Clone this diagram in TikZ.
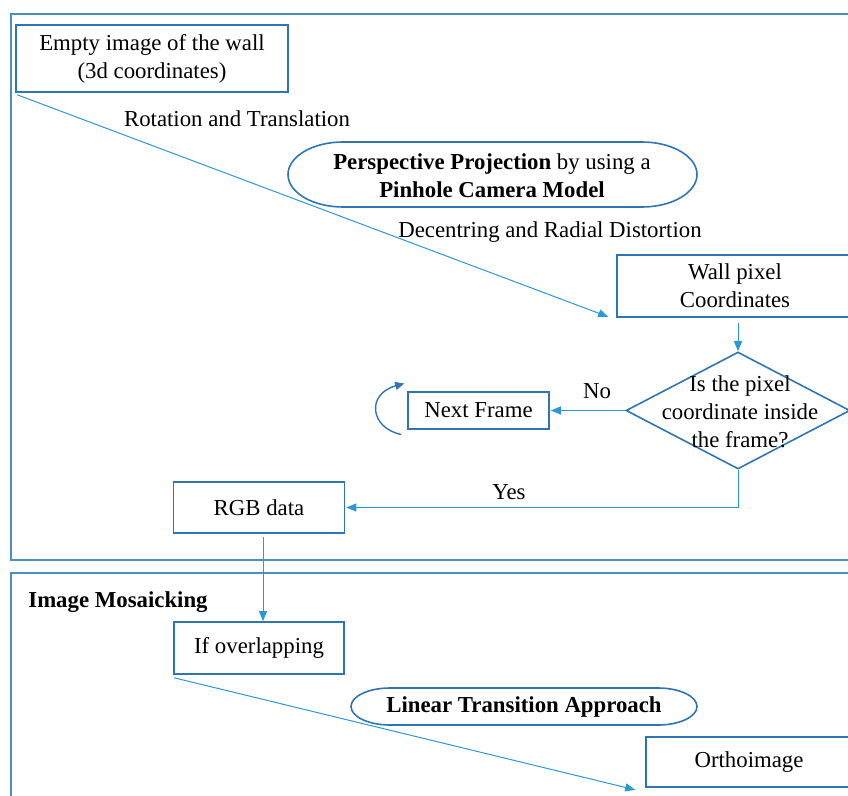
\documentclass[tikz,border=0pt]{standalone}
\usepackage{fontspec}
\setmainfont{Liberation Serif}
\usetikzlibrary{arrows.meta,shapes.geometric}
\definecolor{boxblue}{HTML}{2E75B6}
\definecolor{lineblue}{HTML}{62B2E4}
\definecolor{headblue}{HTML}{2B98D8}
\definecolor{frameblue}{HTML}{4A8FC0}
\begin{document}
\begin{tikzpicture}[x=1pt,y=1pt,
  every node/.style={font=\fontsize{22.8}{28}\selectfont, align=center, inner sep=0pt, text=black},
  box/.style={draw=boxblue, line width=1.6pt},
  frame/.style={draw=frameblue, line width=1.8pt},
  pill/.style={draw=boxblue, line width=1.6pt},
  conn/.style={draw=lineblue, line width=1pt, -{Triangle[length=10pt,width=8pt,fill=headblue]}, headblue},
  loopar/.style={draw=boxblue, line width=1.4pt, -{Triangle[length=9pt,width=8pt,fill=boxblue]}}]
\useasboundingbox (0,0) rectangle (848,-795);
\clip (0,0) rectangle (848,-795);
% frames
\draw[frame] (11,-14) rectangle (870,-560);
\draw[frame] (11,-573) rectangle (870,-820);
% nodes
\node[box, minimum width=272pt, minimum height=67pt] (empty) at (152,-58.5) {Empty image of the wall\\(3d coordinates)};
\node (rot) at (237,-119) {Rotation and Translation};
\draw[pill] (343,-142) -- (642,-142) arc[start angle=90,end angle=-90,x radius=55pt,y radius=32.5pt] -- (343,-207) arc[start angle=270,end angle=90,x radius=55pt,y radius=32.5pt] -- cycle;
\node (persp) at (492,-176) {\textbf{Perspective Projection} by using a\\\textbf{Pinhole Camera Model}};
\node (dist) at (550,-232) {Decentring and Radial Distortion};
\node[box, minimum width=236pt, minimum height=62pt] (wall) at (735,-286) {Wall pixel\\Coordinates};
\node[box, diamond, minimum width=224pt, minimum height=117pt] (dec) at (738,-410.5) {};
\node (dectext) at (740,-412) {Is the pixel\\coordinate inside\\the frame?};
\node[box, minimum width=141pt, minimum height=37pt] (next) at (478.5,-410.5) {Next Frame};
\node (no) at (597,-391) {No};
\node[box, minimum width=171pt, minimum height=51pt] (rgb) at (259,-507.5) {RGB data};
\node (yes) at (509,-492) {Yes};
\node (mosa) at (118,-602) {\textbf{Image Mosaicking}};
\node[box, minimum width=170pt, minimum height=52pt] (over) at (259,-648) {If overlapping};
\draw[pill] (390,-688) -- (658,-688) arc[start angle=90,end angle=-90,x radius=39pt,y radius=18.5pt] -- (390,-725) arc[start angle=270,end angle=90,x radius=39pt,y radius=18.5pt] -- cycle;
\node (linear) at (524,-707) {\textbf{Linear Transition Approach}};
\node[box, minimum width=206pt, minimum height=50pt] (ortho) at (749,-762) {Orthoimage};
% connectors
\draw[conn] ([shift={(2,-2)}]empty.south west) -- ([shift={(-8,1)}]wall.south west);
\draw[conn] ([yshift=-5]wall.south -| dec.north) -- (dec.north);
\draw[conn] (dec.west) -- ([xshift=1]next.east);
\draw[conn] (dec.south) |- ([xshift=1]rgb.east);
\draw[conn] ([shift={(4,-3)}]rgb.south) -- ([xshift=4]over.north);
\draw[conn] ([shift={(1,-3)}]over.south west) -- ([shift={(-10,-2)}]ortho.south west);
\coordinate (loopstart) at ([shift={(-6,-24)}]next.west);
\coordinate (loopend) at ([shift={(-3,27)}]next.west);
\draw[loopar] (loopstart) .. controls (370,-428) and (366,-394) .. (loopend);
\end{tikzpicture}
\end{document}
